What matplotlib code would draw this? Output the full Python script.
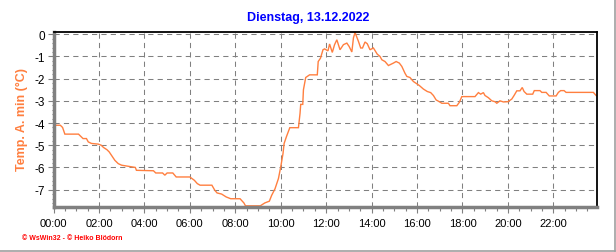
import matplotlib
matplotlib.use("Agg")
import matplotlib.pyplot as plt
from matplotlib.ticker import MultipleLocator, FixedLocator
from matplotlib.lines import Line2D

title = "Dienstag, 13.12.2022"
ylabel = "Temp. A. min (°C)"
footer = "© WsWin32 - © Heiko Blödorn"

hours = [0.0, 0.3, 0.4, 0.5, 1.1, 1.2, 1.3, 1.45, 1.53, 1.67, 1.97, 2.1, 2.2, 2.35, 2.45,
         2.55, 2.7, 2.85, 3.0, 3.3, 3.6, 3.65, 4.4, 4.5, 4.8, 4.9, 5.0, 5.25, 5.4, 6.0,
         6.2, 6.33, 6.45, 6.97, 7.1, 7.2, 7.4, 7.6, 7.8, 8.21, 8.38, 8.45, 9.1, 9.3, 9.5,
         9.6, 9.75, 9.9, 10.0, 10.1, 10.15, 10.25, 10.4, 10.78, 10.85, 10.88, 10.97, 11.0,
         11.1, 11.27, 11.61, 11.65, 11.75, 11.86, 11.93, 12.08, 12.15, 12.27, 12.37, 12.47,
         12.61, 12.76, 12.91, 13.01, 13.13, 13.2, 13.27, 13.42, 13.52, 13.6, 13.71, 13.81,
         13.93, 14.08, 14.25, 14.37, 14.45, 14.59, 14.74, 14.96, 15.08, 15.22, 15.33, 15.47,
         15.55, 15.69, 15.84, 16.1, 16.28, 16.45, 16.6, 16.72, 16.84, 16.98, 17.09, 17.38,
         17.45, 17.75, 17.86, 17.97, 18.55, 18.7, 18.8, 18.92, 18.99, 19.14, 19.29, 19.43,
         19.51, 19.65, 19.8, 20.0, 20.17, 20.27, 20.39, 20.53, 20.63, 20.71, 20.83, 21.09,
         21.16, 21.41, 21.49, 21.68, 21.82, 22.12, 22.22, 22.32, 22.47, 22.56, 23.76, 23.88]
temps = [-4.1, -4.1, -4.2, -4.5, -4.5, -4.6, -4.7, -4.7, -4.85, -4.92, -4.95, -5.0, -5.1, -5.2, -5.3,
         -5.45, -5.68, -5.83, -5.9, -5.95, -6.0, -6.13, -6.15, -6.25, -6.25, -6.35, -6.25, -6.25, -6.43, -6.43,
         -6.58, -6.73, -6.8, -6.8, -7.03, -7.15, -7.2, -7.33, -7.41, -7.41, -7.6, -7.73, -7.73, -7.6, -7.52,
         -7.26, -6.96, -6.5, -5.98, -5.38, -4.92, -4.62, -4.21, -4.21, -3.57, -3.16, -3.16, -2.5,
         -1.95, -1.83, -1.83, -1.23, -1.08, -0.7, -0.66, -0.75, -0.44, -0.82, -0.47, -0.25,
         -0.7, -0.47, -0.4, -0.55, -0.8, -0.17, 0.08, -0.32, -0.62, -0.62, -0.35, -0.43,
         -0.7, -0.62, -0.9, -1.0, -1.15, -1.23, -1.41, -1.3, -1.23, -1.3, -1.45, -1.76,
         -1.9, -1.95, -2.13, -2.31, -2.47, -2.58, -2.63, -2.76, -2.96, -3.04, -3.11, -3.11,
         -3.22, -3.22, -3.07, -2.81, -2.81, -2.63, -2.7, -2.63, -2.76, -2.86, -3.0, -3.04,
         -3.11, -3.0, -3.05, -3.04, -2.92, -2.76, -2.55, -2.55, -2.4, -2.58, -2.7, -2.7,
         -2.54, -2.54, -2.62, -2.62, -2.78, -2.78, -2.62, -2.54, -2.54, -2.62, -2.62, -2.76]

xtick_hours = [0, 2, 4, 6, 8, 10, 12, 14, 16, 18, 20, 22]
xtick_labels = ["00:00", "02:00", "04:00", "06:00", "08:00", "10:00", "12:00",
                "14:00", "16:00", "18:00", "20:00", "22:00"]
ytick_vals = [0, -1, -2, -3, -4, -5, -6, -7]

plt.rcParams['font.family'] = ['Liberation Sans', 'DejaVu Sans']

fig = plt.figure(figsize=(6.16, 2.53), dpi=100)
fig.patch.set_facecolor('white')
ax = fig.add_axes([53.5 / 616, 1 - 207.5 / 253, (597 - 53.5) / 616, (207.5 - 33) / 253])

ax.plot(hours, temps, color='#FF7F3F', linewidth=1.0, solid_joinstyle='miter')

ax.set_xlim(0, 23.92)
ax.set_ylim(-7.76, 0.1)

ax.xaxis.set_major_locator(FixedLocator(xtick_hours))
ax.set_xticklabels(xtick_labels, fontsize=8)
ax.xaxis.set_minor_locator(MultipleLocator(0.5))
ax.yaxis.set_major_locator(FixedLocator(ytick_vals))
ax.set_yticklabels([str(v) for v in ytick_vals], fontsize=8.5)
ax.yaxis.set_minor_locator(MultipleLocator(0.2))

ax.tick_params(axis='x', which='major', direction='out', length=4, width=0.8, color='#808080', pad=4)
ax.tick_params(axis='x', which='minor', direction='out', length=3, width=0.8, color='#808080')
ax.tick_params(axis='y', which='major', direction='out', length=4, width=0.8, color='#808080', pad=2)
ax.tick_params(axis='y', which='minor', direction='out', length=1.5, width=0.8, color='#808080')

ax.grid(True, which='major', color='#808080', linestyle=(0, (5, 4)), linewidth=0.75)

for side in ['left', 'bottom']:
    ax.spines[side].set_color('#808080')
    ax.spines[side].set_linewidth(2.5)
for side in ['top', 'right']:
    ax.spines[side].set_color('black')
    ax.spines[side].set_linewidth(1.3)

fig.text(0.5, 1 - 18 / 253, title, color='#0000FF', fontsize=9, fontweight='bold',
         ha='center', va='center')
fig.text(22 / 616, 1 - 120 / 253, ylabel, color='#FF7F3F', fontsize=9, fontweight='bold',
         rotation=90, ha='center', va='center')
fig.text(22 / 616, 1 - 238.5 / 253, footer, color='#FF0000', fontsize=5, fontweight='bold',
         ha='left', va='center')

# figure border (right and bottom)
fig.add_artist(Line2D([614.5 / 616, 614.5 / 616], [1 - 251.5 / 253, 1.0], transform=fig.transFigure,
                      color='#A0A0A0', linewidth=1.2))
fig.add_artist(Line2D([0, 614.5 / 616], [1 - 251.5 / 253, 1 - 251.5 / 253], transform=fig.transFigure,
                      color='#A0A0A0', linewidth=1.2))

fig.savefig('out.png', dpi=100)
